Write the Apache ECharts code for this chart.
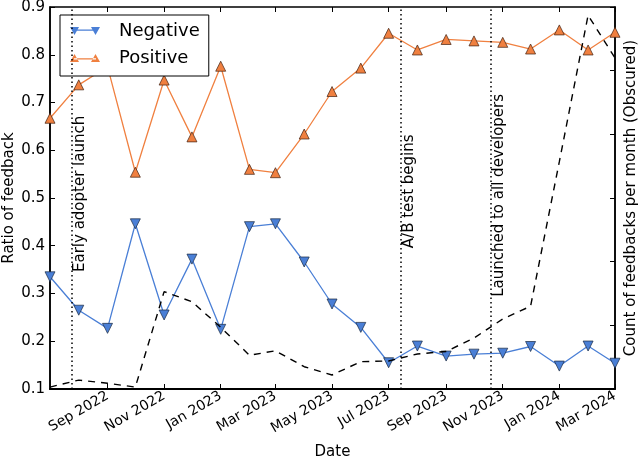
<!DOCTYPE html>
<html>
<head>
<meta charset="utf-8">
<script src="https://cdn.jsdelivr.net/npm/echarts@6/dist/echarts.min.js"></script>
<style>
  html, body { margin: 0; padding: 0; background: #fff; }
  #chart { width: 640px; height: 462px; }
</style>
</head>
<body>
<div id="chart"></div>
<script>
// monthly feedback ratios
const months = [
  '2022-07-01', '2022-08-01', '2022-09-01', '2022-10-01', '2022-11-01', '2022-12-01',
  '2023-01-01', '2023-02-01', '2023-03-01', '2023-04-01', '2023-05-01', '2023-06-01',
  '2023-07-01', '2023-08-01', '2023-09-01', '2023-10-01', '2023-11-01', '2023-12-01',
  '2024-01-01', '2024-02-01', '2024-03-01'
];
const negative = [
  0.335, 0.265, 0.227, 0.446, 0.255, 0.372, 0.225, 0.44, 0.446, 0.366, 0.278, 0.229,
  0.155, 0.19, 0.169, 0.173, 0.175, 0.189, 0.148, 0.19, 0.154
];
const positive = [
  0.667, 0.737, 0.775, 0.554, 0.747, 0.628, 0.776, 0.56, 0.553, 0.634, 0.723, 0.772,
  0.845, 0.81, 0.832, 0.829, 0.826, 0.812, 0.852, 0.81, 0.847
];
// obscured count, arbitrary units
const feedbackCount = [
  3, 14, 9, 3, 153, 137, 97, 53, 60, 35, 22, 43,
  44, 55, 59, 80, 110, 130, 357, 587, 520
];
const tickDates = [
  '2022-09-01', '2022-11-01', '2023-01-01', '2023-03-01', '2023-05-01',
  '2023-07-01', '2023-09-01', '2023-11-01', '2024-01-01', '2024-03-01'
];
const monthNames = ['Jan', 'Feb', 'Mar', 'Apr', 'May', 'Jun', 'Jul', 'Aug', 'Sep', 'Oct', 'Nov', 'Dec'];
const eventDates = ['2022-07-24', '2023-07-14', '2023-10-19'];
const eventNames = ['Early adopter launch', 'A/B test begins', 'Launched to all developers'];

const chart = echarts.init(document.getElementById('chart'));
const font = 'DejaVu Sans';
const ts = s => Date.parse(s + 'T00:00:00Z');
const monthTimes = months.map(ts);
const tickTimes = tickDates.map(ts);
const eventTimes = eventDates.map(ts);
const eventLabelY = [0.345, 0.395, 0.293];

const pair = (xs, ys) => xs.map((x, i) => [x, ys[i]]);

chart.setOption({
  animation: false,
  backgroundColor: '#fff',
  textStyle: { fontFamily: font, color: '#000' },
  grid: {
    left: 50, right: 25, top: 7, bottom: 73,
    outerBoundsMode: 'none',
    show: true, borderColor: '#000', borderWidth: 1.5, backgroundColor: 'transparent'
  },
  legend: {
    left: 60, top: 15,
    orient: 'vertical',
    backgroundColor: '#fff',
    borderColor: '#000',
    borderWidth: 1,
    borderRadius: 0,
    padding: [6, 9, 8, 10],
    itemGap: 7,
    itemWidth: 30,
    itemHeight: 10,
    textStyle: { fontFamily: font, fontSize: 18, color: '#000', lineHeight: 20, padding: [0, 0, 0, 14] },
    data: [
      {
        name: 'Negative',
        icon: 'path://M0,0 L9,0 L4.5,8 Z M21,0 L30,0 L25.5,8 Z M4,2.6 L26,2.6 L26,3.8 L4,3.8 Z',
        itemStyle: { color: '#4a7fd6', borderWidth: 0 }
      },
      {
        name: 'Positive',
        icon: 'path://M0,10 L9,10 L4.5,2 Z M21,10 L30,10 L25.5,2 Z M4,6.3 L26,6.3 L26,7.5 L4,7.5 Z',
        itemStyle: { color: '#f08040', borderWidth: 0 }
      }
    ]
  },
  xAxis: [
    {
      type: 'value',
      min: monthTimes[0],
      max: monthTimes[monthTimes.length - 1],
      name: 'Date',
      nameLocation: 'middle',
      nameGap: 56,
      nameMoveOverlap: false,
      nameTextStyle: { fontFamily: font, fontSize: 15, color: '#000' },
      axisLine: { show: true, lineStyle: { color: '#000', width: 2 } },
      axisTick: { show: true, inside: true, length: 5, customValues: tickTimes, lineStyle: { color: '#000' } },
      axisLabel: {
        customValues: tickTimes,
        rotate: 30,
        margin: 6,
        fontFamily: font,
        fontSize: 14,
        color: '#000',
        formatter: v => {
          const d = new Date(v);
          return monthNames[d.getUTCMonth()] + ' ' + d.getUTCFullYear();
        }
      },
      splitLine: { show: false }
    },
    {
      type: 'value',
      position: 'top',
      min: monthTimes[0],
      max: monthTimes[monthTimes.length - 1],
      axisLine: { show: false },
      axisTick: { show: true, inside: true, length: 5, customValues: tickTimes, lineStyle: { color: '#000' } },
      axisLabel: { show: false, customValues: tickTimes },
      splitLine: { show: false }
    }
  ],
  yAxis: [
    {
      type: 'value',
      min: 0.1,
      max: 0.9,
      interval: 0.1,
      name: 'Ratio of feedback',
      nameLocation: 'middle',
      nameRotate: 90,
      nameGap: 33,
      nameMoveOverlap: false,
      nameTextStyle: { fontFamily: font, fontSize: 15, color: '#000' },
      axisLine: { show: true, lineStyle: { color: '#000', width: 1.5 } },
      axisTick: { show: true, inside: true, length: 5, lineStyle: { color: '#000' } },
      axisLabel: { fontFamily: font, fontSize: 15, color: '#000', margin: 5, formatter: v => v.toFixed(1) },
      splitLine: { show: false }
    },
    {
      type: 'value',
      position: 'right',
      min: 0,
      max: 600,
      interval: 100,
      name: 'Count of feedbacks per month (Obscured)',
      nameLocation: 'middle',
      nameRotate: 90,
      nameGap: 9,
      nameMoveOverlap: false,
      nameTextStyle: { fontFamily: font, fontSize: 15, color: '#000' },
      axisLine: { show: true, lineStyle: { color: '#000', width: 1.5 } },
      axisTick: { show: true, inside: true, length: 5, lineStyle: { color: '#000' } },
      axisLabel: { show: false },
      splitLine: { show: false }
    }
  ],
  series: [
    {
      name: 'Negative',
      type: 'line',
      data: pair(monthTimes, negative),
      symbol: 'triangle',
      symbolRotate: 180,
      symbolSize: 10,
      color: '#4a7fd6',
      lineStyle: { color: '#4a7fd6', width: 1.3 },
      itemStyle: { color: '#4a7fd6', borderColor: '#1a2a40', borderWidth: 0.7 },
      z: 3
    },
    {
      name: 'Positive',
      type: 'line',
      data: pair(monthTimes, positive),
      symbol: 'triangle',
      symbolSize: 10,
      color: '#f08040',
      lineStyle: { color: '#f08040', width: 1.3 },
      itemStyle: { color: '#f08040', borderColor: '#402010', borderWidth: 0.7 },
      z: 3
    },
    {
      name: 'Count',
      type: 'line',
      yAxisIndex: 1,
      data: pair(monthTimes, feedbackCount),
      showSymbol: false,
      symbol: 'none',
      lineStyle: { color: '#000', width: 1.4, type: [7, 6] },
      z: 4
    },
    {
      name: 'Events',
      type: 'scatter',
      data: eventTimes.map((t, i) => [t, eventLabelY[i], eventNames[i]]),
      symbolSize: 0,
      silent: true,
      itemStyle: { opacity: 1 },
      label: {
        show: true,
        formatter: p => p.data[2],
        position: [1, 0],
        rotate: 90,
        align: 'left',
        verticalAlign: 'top',
        fontFamily: font,
        fontSize: 15,
        color: '#000'
      },
      markLine: {
        symbol: 'none',
        silent: true,
        label: { show: false },
        lineStyle: { color: '#000', type: [1.5, 3], width: 1.5 },
        data: eventTimes.map(t => ({ xAxis: t }))
      },
      z: 2
    }
  ]
});
</script>
</body>
</html>
